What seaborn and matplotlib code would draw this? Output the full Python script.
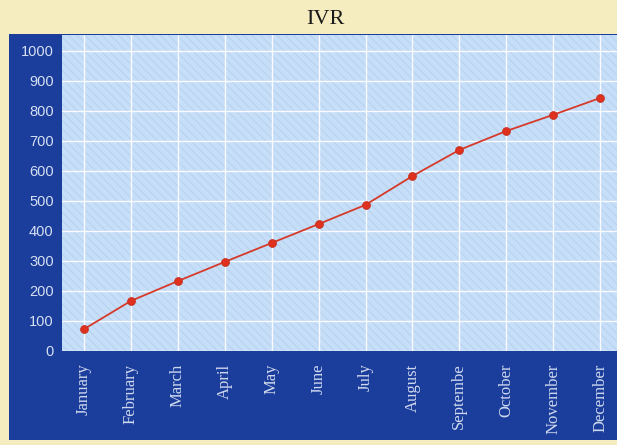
import matplotlib
matplotlib.use("Agg")
import matplotlib.pyplot as plt
from matplotlib.patches import Rectangle
import seaborn as sns
import pandas as pd

months = ["January", "February", "March", "April", "May", "June", "July",
          "August", "Septembe", "October", "November", "December"]
ivr = [73, 167, 233, 297, 360, 423, 487, 583, 670, 733, 787, 843]
y_ticks = [0, 100, 200, 300, 400, 500, 600, 700, 800, 900, 1000]

df = pd.DataFrame({"idx": range(len(months)), "month": months, "ivr": ivr})

sns.set_theme(style="white")
plt.rcParams["hatch.linewidth"] = 0.6

W, H = 617, 445
fig = plt.figure(figsize=(W / 100, H / 100), dpi=100, facecolor="#f5edc0")

# dark blue frame behind the plot
fig.patches.append(Rectangle((9 / W, (H - 440) / H), (W - 9) / W, (440 - 34) / H,
                             transform=fig.transFigure, facecolor="#1b3d9c",
                             edgecolor="none", zorder=-10))

ax = fig.add_axes([62 / W, (H - 351) / H, (W - 62) / W, (351 - 35) / H])
ax.set_facecolor("#c6def7")
ax.add_patch(Rectangle((0, 0), 1, 1, transform=ax.transAxes, facecolor="none",
                       edgecolor="#b4cfee", hatch="\\\\\\\\", linewidth=0, zorder=0))

sns.lineplot(data=df, x="idx", y="ivr", ax=ax, color="#d63a2a", linewidth=1.3,
             marker="o", markersize=5.5, markerfacecolor="#e0311f",
             markeredgecolor="#c8301f", zorder=5)

ax.set_xlim(-0.47, 11.36)
ax.set_ylim(0, 1053)
ax.set_xticks(range(len(months)))
ax.set_xticklabels(months, rotation=90, family="Liberation Serif", fontsize=12,
                   color="#cfd9ee", va="top", ha="center")
ax.set_yticks(y_ticks)
ax.set_yticklabels([str(v) for v in y_ticks], family="Liberation Sans",
                   fontsize=10.5, color="#d6e0f2")
ax.tick_params(axis="x", length=0, pad=9)
ax.tick_params(axis="y", length=0, pad=6)
ax.grid(True, color="white", linewidth=1.0, alpha=0.9)
ax.set_axisbelow(True)
for s in ax.spines.values():
    s.set_visible(False)
ax.set_xlabel("")
ax.set_ylabel("")

fig.text(325 / W, 1 - 19 / H, "IVR", ha="center", va="center",
         family="Liberation Serif", fontsize=16, color="#1a1a1a")

fig.savefig("out.png", dpi=100, facecolor=fig.get_facecolor())
